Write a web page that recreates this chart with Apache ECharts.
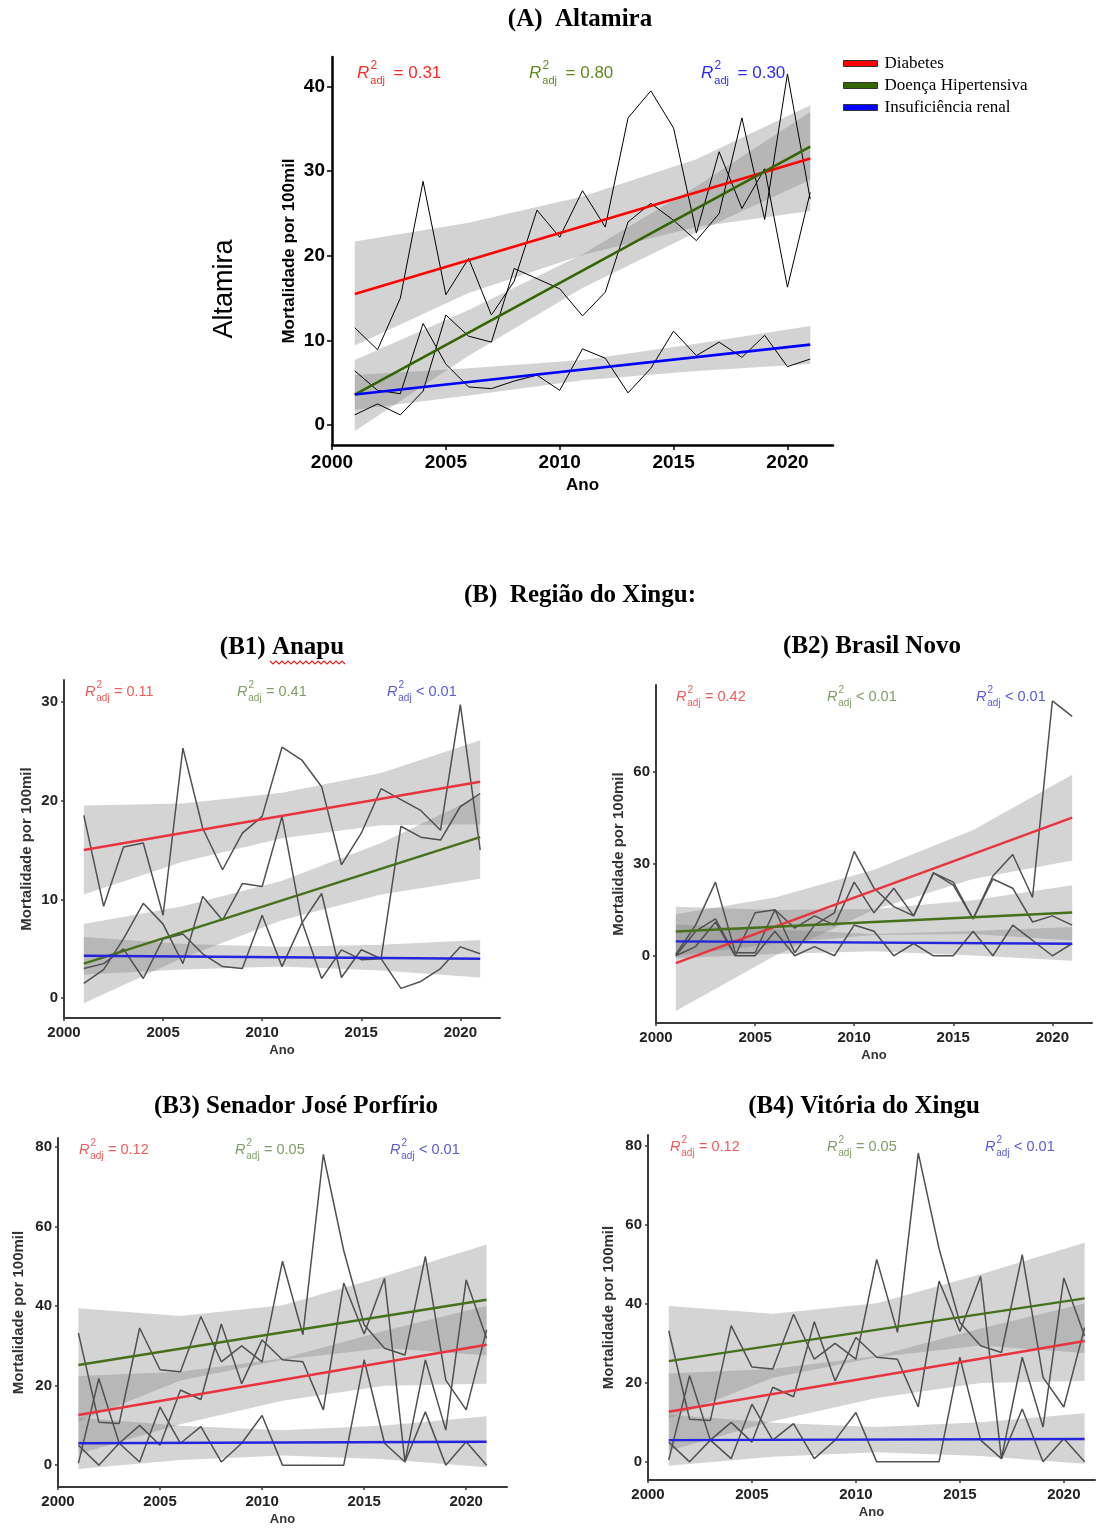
<!DOCTYPE html>
<html>
<head>
<meta charset="utf-8">
<script src="https://cdn.jsdelivr.net/npm/echarts@6/dist/echarts.min.js"></script>
<style>html,body{margin:0;padding:0;background:#fff}#c{width:1097px;height:1528px}</style>
</head>
<body>
<div id="c"></div>
<script>
// ---------- data ----------
const years = [2001,2002,2003,2004,2005,2006,2007,2008,2009,2010,2011,2012,2013,2014,2015,2016,2017,2018,2019,2020,2021];
const bandYears = [2001, 2006, 2011, 2016, 2021];
const fitYears = [2001, 2021];
const seriesNames = ['Diabetes', 'Doença Hipertensiva', 'Insuficiência renal'];
const xTickValues = [2000, 2005, 2010, 2015, 2020];

// (A) Altamira
const A_diab  = [11.5, 8.9, 15.0, 28.8, 15.4, 19.7, 13.0, 17.0, 25.4, 22.2, 27.7, 23.4, 36.3, 39.5, 35.1, 22.7, 32.3, 25.6, 30.3, 16.3, 27.5];
const A_hip   = [1.2, 2.5, 1.2, 4.0, 13.0, 10.5, 9.8, 18.5, 17.3, 16.1, 12.9, 15.7, 24.0, 26.2, 24.2, 21.8, 25.0, 36.3, 24.3, 41.5, 26.7];
const A_renal = [6.4, 4.1, 3.7, 12.0, 7.2, 4.5, 4.3, 5.2, 5.9, 4.1, 9.0, 7.9, 3.8, 6.7, 11.1, 8.2, 9.8, 8.0, 10.6, 6.9, 7.8];
const A_fitD = [15.5, 31.5];
const A_fitH = [3.6, 32.9];
const A_fitR = [3.6, 9.5];
const A_bandD_lo = [9.4, 15.6, 20.1, 23.4, 25.3];
const A_bandD_hi = [21.7, 23.9, 27.0, 31.4, 37.8];
const A_bandH_lo = [-0.7, 8.2, 16.2, 22.8, 29.0];
const A_bandH_hi = [7.7, 13.6, 20.2, 28.2, 37.0];
const A_bandR_lo = [1.8, 3.5, 5.3, 6.4, 7.2];
const A_bandR_hi = [5.9, 6.7, 7.7, 9.6, 11.7];
const A_r2 = ['= 0.31', '= 0.80', '= 0.30'];
const A_yTicks = [0, 10, 20, 30, 40];

// (B1) Anapu
const B1_diab  = [18.5, 9.3, 15.3, 15.7, 8.4, 25.3, 17.2, 13.0, 16.7, 18.4, 25.4, 24.1, 21.4, 13.5, 16.7, 21.2, 20.1, 19.0, 17.0, 29.7, 15.0];
const B1_hip   = [1.5, 2.9, 6.0, 9.6, 7.5, 3.5, 10.3, 7.9, 11.6, 11.3, 18.4, 7.8, 2.0, 4.9, 3.9, 4.0, 17.4, 16.3, 16.0, 19.4, 20.7];
const B1_renal = [3.0, 3.5, 5.0, 2.0, 6.0, 6.5, 4.5, 3.2, 3.0, 8.4, 3.2, 7.6, 10.6, 2.1, 4.9, 4.0, 1.0, 1.7, 3.0, 5.2, 4.5];
const B1_fitD = [15.0, 21.9];
const B1_fitH = [3.5, 16.3];
const B1_fitR = [4.3, 4.0];
const B1_bandD_lo = [10.5, 13.8, 16.2, 17.5, 17.6];
const B1_bandD_hi = [19.5, 19.7, 20.8, 22.8, 26.1];
const B1_bandH_lo = [-0.5, 4.1, 7.9, 10.5, 12.1];
const B1_bandH_hi = [7.5, 9.3, 11.9, 15.7, 20.5];
const B1_bandR_lo = [2.4, 2.9, 3.2, 2.8, 2.1];
const B1_bandR_hi = [6.2, 5.5, 5.2, 5.4, 5.9];
const B1_r2 = ['= 0.11', '= 0.41', '< 0.01'];
const B1_yTicks = [0, 10, 20, 30];

// (B2) Brasil Novo
const B2_diab  = [0.5, 10, 24, 1, 1, 15, 1, 10, 14, 34, 22, 16, 13, 27, 24, 12, 26, 33, 19, 83, 78];
const B2_hip   = [0, 8, 12, 0, 14, 15, 9, 13, 10, 24, 14, 22, 13, 27, 23, 12, 25, 22, 11, 13, 10];
const B2_renal = [0, 3, 11, 0, 0, 8, 0, 3, 0, 10, 8, 0, 4, 0, 0, 8, 0, 10, 5, 0, 4];
const B2_fitD = [-2.4, 45.0];
const B2_fitH = [7.9, 14.1];
const B2_fitR = [4.7, 3.9];
const B2_bandD_lo = [-18, 0, 15, 25, 31];
const B2_bandD_hi = [13.5, 19, 28, 41, 59];
const B2_bandH_lo = [0, 3.9, 6.8, 7.1, 5];
const B2_bandH_hi = [16, 14.9, 15.2, 18.1, 23];
const B2_bandR_lo = [-0.8, 0.6, 1.5, 0.1, -1.6];
const B2_bandR_hi = [10.2, 8.6, 7.1, 8.1, 9.4];
const B2_r2 = ['= 0.42', '< 0.01', '< 0.01'];
const B2_yTicks = [0, 30, 60];

// (B3) Senador José Porfírio
const B3_diab  = [0.5, 21.8, 5.5, 10.0, 5.0, 18.9, 16.5, 35.5, 20.5, 31.5, 26.5, 26.0, 13.9, 45.8, 33.0, 47.0, 0.8, 26.5, 8.8, 46.6, 31.9];
const B3_hip   = [33.2, 10.8, 10.5, 34.5, 24.0, 23.5, 37.4, 26.0, 30.0, 26.0, 51.3, 32.8, 78.2, 54.0, 35.3, 29.4, 27.7, 52.5, 21.4, 13.9, 34.0];
const B3_renal = [5.0, 0.0, 5.5, 0.8, 14.6, 5.5, 9.7, 0.8, 5.5, 12.5, 0.0, 0.0, 0.0, 0.0, 26.5, 5.5, 0.8, 13.4, 0.0, 5.9, 0.0];
const B3_fitD = [12.6, 30.3];
const B3_fitH = [25.2, 41.6];
const B3_fitR = [5.5, 5.9];
const B3_bandD_lo = [2.8, 10.3, 16.2, 20.0, 20.5];
const B3_bandD_hi = [22.4, 23.5, 26.8, 33.8, 40.1];
const B3_bandH_lo = [11.0, 21.3, 26.5, 29.5, 27.6];
const B3_bandH_hi = [39.5, 37.5, 40.2, 47.5, 55.5];
const B3_bandR_lo = [-1.0, 1.3, 2.4, 1.5, -0.5];
const B3_bandR_hi = [12.0, 9.9, 8.8, 10.0, 12.3];
const B3_r2 = ['= 0.12', '= 0.05', '< 0.01'];
const B3_yTicks = [0, 20, 40, 60, 80];

// (B4) Vitória do Xingu — the source panel shows the same curves as B3
const B4_diab  = [0.5, 21.8, 5.5, 10.0, 5.0, 18.9, 16.5, 35.5, 20.5, 31.5, 26.5, 26.0, 13.9, 45.8, 33.0, 47.0, 0.8, 26.5, 8.8, 46.6, 31.9];
const B4_hip   = [33.2, 10.8, 10.5, 34.5, 24.0, 23.5, 37.4, 26.0, 30.0, 26.0, 51.3, 32.8, 78.2, 54.0, 35.3, 29.4, 27.7, 52.5, 21.4, 13.9, 34.0];
const B4_renal = [5.0, 0.0, 5.5, 0.8, 14.6, 5.5, 9.7, 0.8, 5.5, 12.5, 0.0, 0.0, 0.0, 0.0, 26.5, 5.5, 0.8, 13.4, 0.0, 5.9, 0.0];
const B4_fitD = [12.7, 30.6];
const B4_fitH = [25.5, 41.4];
const B4_fitR = [5.5, 5.8];
const B4_bandD_lo = [2.8, 10.3, 16.2, 20.0, 20.5];
const B4_bandD_hi = [22.4, 23.5, 26.8, 33.8, 40.1];
const B4_bandH_lo = [11.0, 21.3, 26.5, 29.5, 27.6];
const B4_bandH_hi = [39.5, 37.5, 40.2, 47.5, 55.5];
const B4_bandR_lo = [-1.0, 1.3, 2.4, 1.5, -0.5];
const B4_bandR_hi = [12.0, 9.9, 8.8, 10.0, 12.3];
const B4_r2 = ['= 0.12', '= 0.05', '< 0.01'];
const B4_yTicks = [0, 20, 40, 60, 80];

// ---------- layout / style ----------
const SANS = '"Liberation Sans", Arial, sans-serif';
const SERIF = '"Liberation Serif", "Times New Roman", serif';

const panels = [
  { grid:{left:332, right:264, top:57, bottom:1083}, xMax:2022, yMin:-2.36, yMax:43.5, yTicks:A_yTicks,
    obs:[A_diab, A_hip, A_renal], fits:[A_fitD, A_fitH, A_fitR],
    bands:[[A_bandD_lo, A_bandD_hi],[A_bandH_lo, A_bandH_hi],[A_bandR_lo, A_bandR_hi]],
    big:true, yGap:34, xGap:32, r2:A_r2, r2x:[357, 529, 701], r2y:73, r2f:17 },
  { grid:{left:64, right:597, top:680, bottom:510}, xMax:2022, yMin:-2.0, yMax:32.2, yTicks:B1_yTicks,
    obs:[B1_diab, B1_hip, B1_renal], fits:[B1_fitD, B1_fitH, B1_fitR],
    bands:[[B1_bandD_lo, B1_bandD_hi],[B1_bandH_lo, B1_bandH_hi],[B1_bandR_lo, B1_bandR_hi]],
    big:false, yGap:30, xGap:26, r2:B1_r2, r2x:[85, 237, 387], r2y:692, r2f:14.5 },
  { grid:{left:656, right:5, top:685, bottom:505}, xMax:2022, yMin:-21.9, yMax:88.2, yTicks:B2_yTicks,
    obs:[B2_diab, B2_hip, B2_renal], fits:[B2_fitD, B2_fitH, B2_fitR],
    bands:[[B2_bandD_lo, B2_bandD_hi],[B2_bandH_lo, B2_bandH_hi],[B2_bandR_lo, B2_bandR_hi]],
    big:false, yGap:30, xGap:26, r2:B2_r2, r2x:[676, 827, 976], r2y:697, r2f:14.5 },
  { grid:{left:58, right:590, top:1138, bottom:41}, xMax:2022, yMin:-5.5, yMax:82.3, yTicks:B3_yTicks,
    obs:[B3_diab, B3_hip, B3_renal], fits:[B3_fitD, B3_fitH, B3_fitR],
    bands:[[B3_bandD_lo, B3_bandD_hi],[B3_bandH_lo, B3_bandH_hi],[B3_bandR_lo, B3_bandR_hi]],
    big:false, yGap:32, xGap:26, r2:B3_r2, r2x:[79, 235, 390], r2y:1150, r2f:14.5 },
  { grid:{left:648, right:2, top:1135, bottom:48}, xMax:2021.5, yMin:-4.6, yMax:82.8, yTicks:B4_yTicks,
    obs:[B4_diab, B4_hip, B4_renal], fits:[B4_fitD, B4_fitH, B4_fitR],
    bands:[[B4_bandD_lo, B4_bandD_hi],[B4_bandH_lo, B4_bandH_hi],[B4_bandR_lo, B4_bandR_hi]],
    big:false, yGap:32, xGap:26, r2:B4_r2, r2x:[670, 827, 985], r2y:1147, r2f:14.5 }
];

const fitColorsA = ['#ff0000', '#336600', '#0000ff'];
const fitColorsB = ['#e8343f', '#46701c', '#2424dc'];
const r2ColorsA = ['#ff2a2a', '#5f8a1f', '#2a2aff'];
const r2ColorsB = ['#ef5a5a', '#7f9e66', '#5a5ad8'];

function bandSeries(idx, lo, hi, color) {
  const rows = bandYears.map((y, i) => [y, lo[i], hi[i]]);
  return {
    type:'custom', xAxisIndex:idx, yAxisIndex:idx, data:rows, silent:true, z:1,
    encode:{x:0, y:[1,2]},
    renderItem: function (params, api) {
      if (params.dataIndex !== 0) return null;
      const pts = [];
      for (let i = 0; i < rows.length; i++) pts.push(api.coord([rows[i][0], rows[i][2]]));
      for (let i = rows.length - 1; i >= 0; i--) pts.push(api.coord([rows[i][0], rows[i][1]]));
      return { type:'polygon', shape:{points:pts}, style:{fill:color} };
    }
  };
}

const grids = [], xAxes = [], yAxes = [], series = [], graphics = [];

panels.forEach((p, idx) => {
  const big = p.big;
  const axCol = big ? '#000' : '#3a3a3a';
  const labFont = big ? 19 : 15;
  grids.push(Object.assign({containLabel:false}, p.grid));
  xAxes.push({
    type:'value', gridIndex:idx, min:2000, max:p.xMax, interval:5,
    axisLine:{show:true, onZero:false, lineStyle:{color:axCol, width: big ? 2.5 : 2}},
    axisTick:{show:true, customValues:xTickValues, length: big ? 5 : 3, lineStyle:{color:axCol, width:1.5}},
    axisLabel:{customValues:xTickValues, formatter:v => String(v), color: big ? '#000' : '#222',
      fontWeight:'bold', fontSize:labFont, fontFamily:SANS, margin: big ? 8 : 7},
    splitLine:{show:false},
    name:'Ano', nameLocation:'middle', nameGap:p.xGap,
    nameTextStyle:{fontWeight:'bold', fontSize: big ? 17 : 13, fontFamily:SANS, color: big ? '#000' : '#333'}
  });
  yAxes.push({
    type:'value', gridIndex:idx, min:p.yMin, max:p.yMax,
    axisLine:{show:true, onZero:false, lineStyle:{color:axCol, width: big ? 2.5 : 2}},
    axisTick:{show:true, customValues:p.yTicks, length: big ? 5 : 3, lineStyle:{color:axCol, width:1.5}},
    axisLabel:{customValues:p.yTicks, color: big ? '#000' : '#222', fontWeight:'bold',
      fontSize:labFont, fontFamily:SANS, margin: big ? 7 : 6},
    splitLine:{show:false},
    name:'Mortalidade por 100mil', nameLocation:'middle', nameGap:p.yGap,
    nameTextStyle:{fontWeight:'bold', fontSize: big ? 17 : 15, fontFamily:SANS, color: big ? '#000' : '#333'}
  });
  const bandFill = big ? 'rgba(125,125,125,0.34)' : 'rgba(125,125,125,0.33)';
  p.bands.forEach(b => series.push(bandSeries(idx, b[0], b[1], bandFill)));
  p.obs.forEach(arr => series.push({
    type:'line', xAxisIndex:idx, yAxisIndex:idx, showSymbol:false, silent:true, z:2,
    data: years.map((y, i) => [y, arr[i]]),
    lineStyle:{color: big ? '#000' : '#505050', width: big ? 1 : 1.5}
  }));
  const fc = big ? fitColorsA : fitColorsB;
  p.fits.forEach((f, k) => series.push({
    type:'line', name:seriesNames[k], xAxisIndex:idx, yAxisIndex:idx, showSymbol:false, silent:true, z:3,
    data: fitYears.map((y, i) => [y, f[i]]),
    color: fc[k], itemStyle:{color: fc[k]},
    lineStyle:{color: fc[k], width: big ? 2.6 : 2.4}
  }));
  // R² annotations
  const rc = big ? r2ColorsA : r2ColorsB;
  p.r2.forEach((txt, k) => {
    const f = p.r2f;
    graphics.push({
      type:'group', x:p.r2x[k], y:p.r2y, silent:true, children:[
        {type:'text', x:0, y:0, style:{text:'R', font:'italic ' + f + 'px ' + SANS, fill:rc[k], verticalAlign:'middle'}},
        {type:'text', x:0.8*f, y:-0.45*f, style:{text:'2', font:Math.round(0.7*f) + 'px ' + SANS, fill:rc[k], verticalAlign:'middle'}},
        {type:'text', x:0.78*f, y:0.45*f, style:{text:'adj', font:Math.round(0.66*f) + 'px ' + SANS, fill:rc[k], verticalAlign:'middle'}},
        {type:'text', x:(big ? 2.15 : 2.0)*f, y:0, style:{text:txt, font:f + 'px ' + SANS, fill:rc[k], verticalAlign:'middle'}}
      ]
    });
  });
});

// titles and side label
const titles = [
  ['(A)  Altamira', 580, 20], ['(B)  Região do Xingu:', 580, 596],
  ['(B1) Anapu', 282, 648], ['(B2) Brasil Novo', 872, 647],
  ['(B3) Senador José Porfírio', 296, 1107], ['(B4) Vitória do Xingu', 864, 1107]
];
titles.forEach(t => graphics.push({type:'text', x:t[1], y:t[2], silent:true,
  style:{text:t[0], font:'bold 25px ' + SERIF, fill:'#000', align:'center', verticalAlign:'middle'}}));
graphics.push({type:'text', x:225, y:289, rotation:Math.PI/2, silent:true,
  style:{text:'Altamira', font:'27px ' + SANS, fill:'#000', align:'center', verticalAlign:'middle'}});
// spell-check squiggle under "Anapu"
graphics.push({type:'polyline', silent:true, shape:{points:[[270,661],[273,664],[276,661],[279,664],[282,661],[285,664],[288,661],[291,664],[294,661],[297,664],[300,661],[303,664],[306,661],[309,664],[312,661],[315,664],[318,661],[321,664],[324,661],[327,664],[330,661],[333,664],[336,661],[339,664],[342,661],[345,664]]},
  style:{stroke:'#e02020', lineWidth:1.2, fill:null}});

const chart = echarts.init(document.getElementById('c'), null, {renderer:'canvas'});
chart.setOption({
  animation:false,
  backgroundColor:'#fff',
  grid:grids, xAxis:xAxes, yAxis:yAxes, series:series, graphic:graphics,
  legend:{
    data:seriesNames, orient:'vertical', left:843, top:55, padding:0, selectedMode:false,
    icon:'rect', itemWidth:34, itemHeight:6, itemGap:5,
    itemStyle:{borderColor:'#333', borderWidth:1},
    textStyle:{fontFamily:SERIF, fontSize:17, color:'#000', padding:[0,0,0,2]}
  }
});
</script>
</body>
</html>
